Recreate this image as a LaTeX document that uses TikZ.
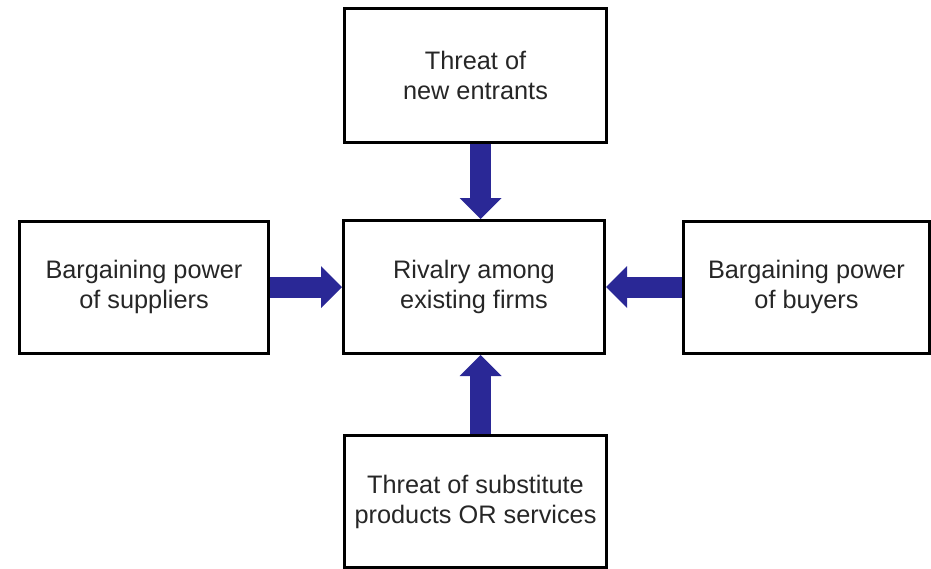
\documentclass[tikz,border=0pt]{standalone}
\usepackage{fontspec}
\setmainfont{Liberation Sans}
\usetikzlibrary{arrows.meta}
\definecolor{forceblue}{RGB}{42,40,150}
\tikzset{
    box/.style={draw, line width=0.06cm, align=center, font=\fontsize{14.4}{17.1}\selectfont, text=black!85},
    force/.style={line width=0.42cm, forceblue, -{Triangle[width=0.84cm, length=0.42cm, line width=0pt]}}
}
\begin{document}
\begin{tikzpicture}
    \useasboundingbox (0,0) rectangle (18.62,11.36);
    % Central box: rivalry
    \node[box, minimum width=5.22cm, minimum height=2.66cm] (mid) at (9.48,5.62) {Rivalry among\\existing firms};

    % The four forces around it
    \node[box, minimum width=5.24cm, minimum height=2.68cm] (top) at (9.51,9.85) {Threat of\\new entrants};
    \node[box, minimum width=5.24cm, minimum height=2.64cm] (bot) at (9.51,1.33) {Threat of substitute\\products OR services};
    \node[box, minimum width=4.98cm, minimum height=2.64cm] (sup) at (2.88,5.62) {Bargaining power\\of suppliers};
    \node[box, minimum width=4.92cm, minimum height=2.64cm] (buy) at (16.13,5.62) {Bargaining power\\of buyers};

    % Arrows pointing at the centre
    \draw[force] ([xshift=0.1cm]top.south) -- ([xshift=0.1cm]top.south |- mid.north);
    \draw[force] ([xshift=0.1cm]bot.north) -- ([xshift=0.1cm]bot.north |- mid.south);
    \draw[force] (sup.east) -- (mid.west);
    \draw[force] (buy.west) -- (mid.east);
\end{tikzpicture}
\end{document}
